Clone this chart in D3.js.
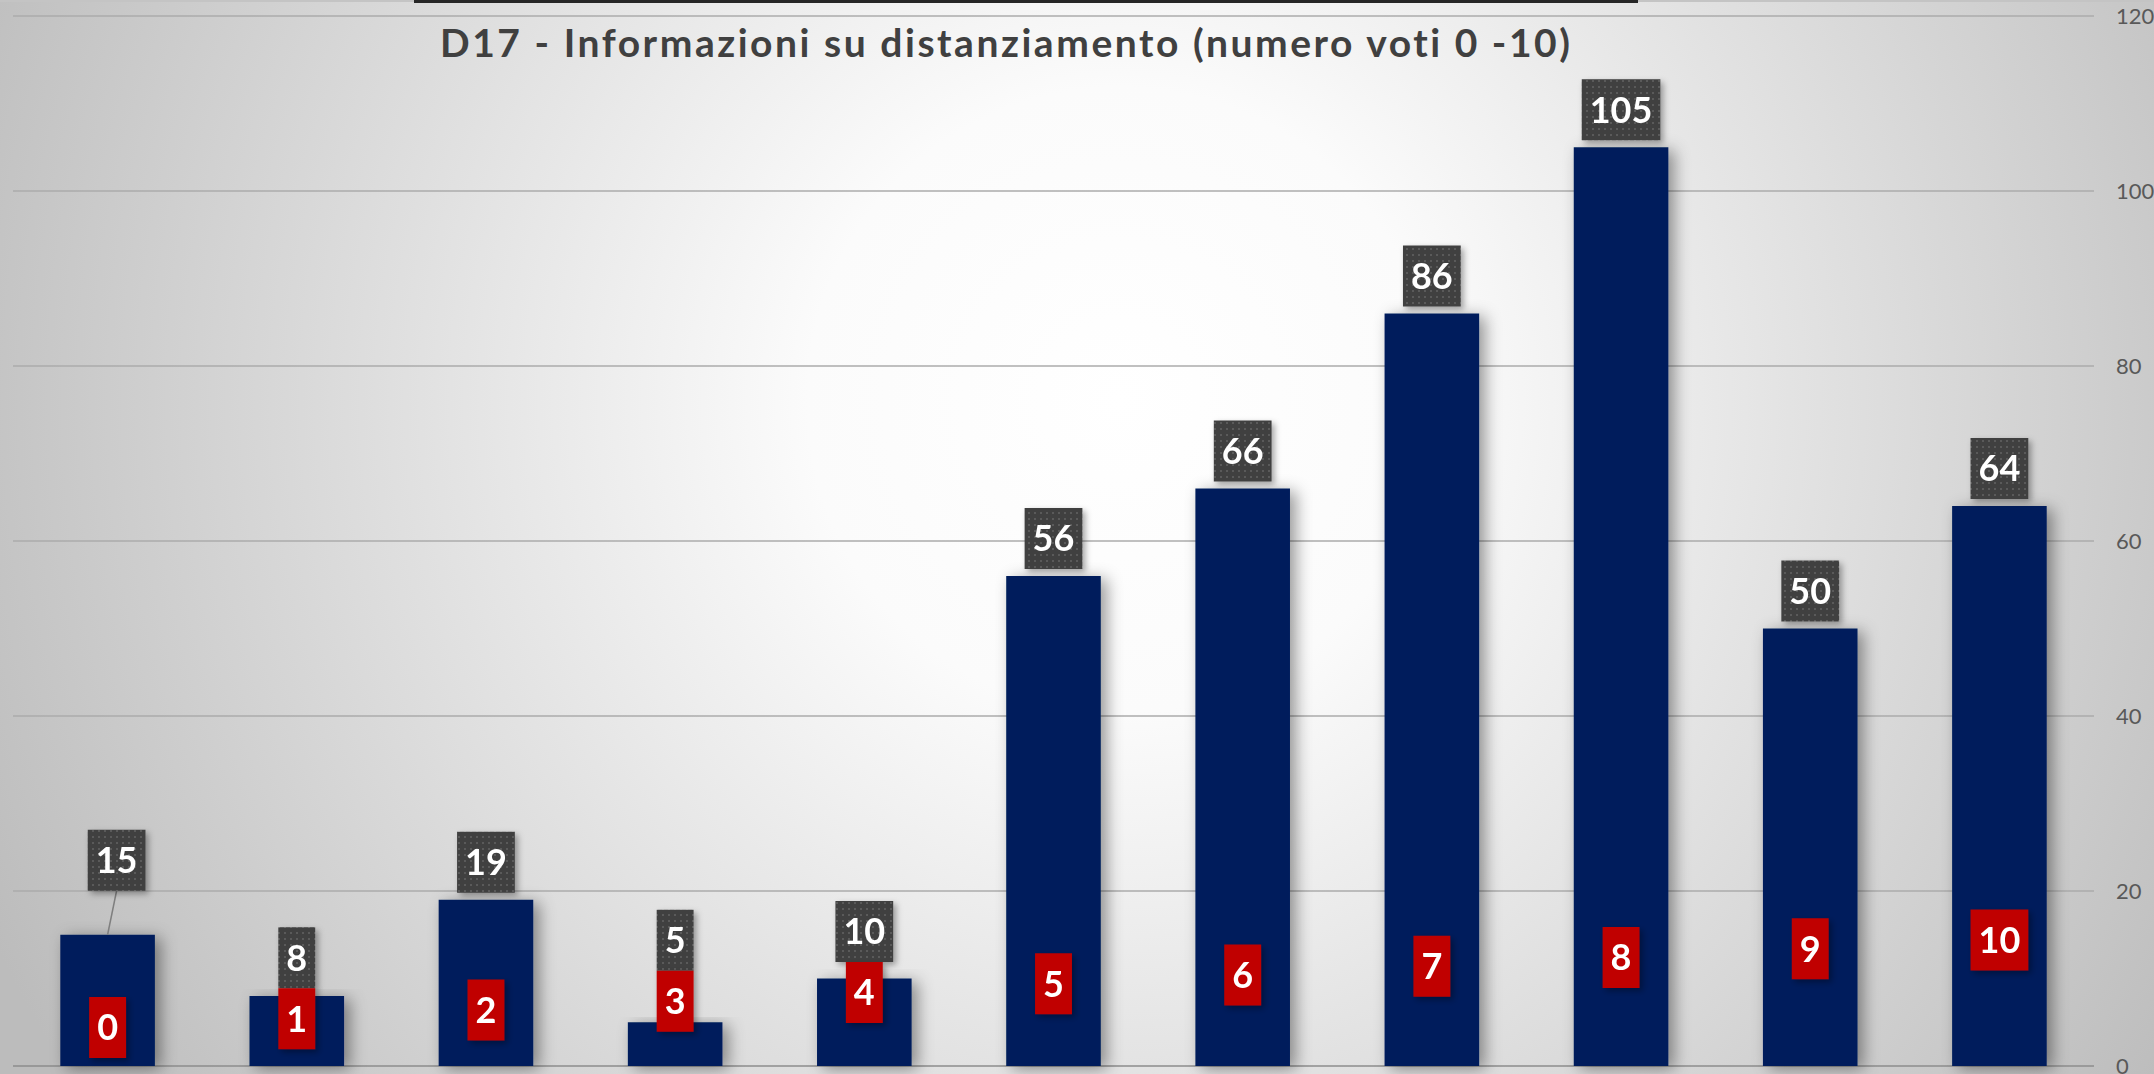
<!DOCTYPE html>
<html>
<head>
<meta charset="utf-8">
<script src="https://d3js.org/d3.v7.min.js"></script>
<style>
  html, body { margin: 0; padding: 0; overflow: hidden; background: #fff; }
  text { font-family: Lato, "Open Sans", sans-serif; font-variant-ligatures: none; font-feature-settings: "liga" 0; }
</style>
</head>
<body>
<div id="graph"></div>
<script>
// voto 0..10 and number of votes for each
var categories = ['0', '1', '2', '3', '4', '5', '6', '7', '8', '9', '10'];
var votes = [15, 8, 19, 5, 10, 56, 66, 86, 105, 50, 64];
var yTicks = [0, 20, 40, 60, 80, 100, 120];
var title = 'D17 - Informazioni su distanziamento (numero voti 0 -10)';

var width = 2154,
    height = 1074,
    svg = d3.select('#graph')
        .append('svg')
        .attr('width', width)
        .attr('height', height);

var defs = svg.append('defs');

var bg = defs.append('radialGradient')
    .attr('id', 'bg')
    .attr('gradientUnits', 'userSpaceOnUse')
    .attr('cx', 1120).attr('cy', 400).attr('r', 1250);
bg.append('stop').attr('offset', 0).attr('stop-color', '#ffffff');
bg.append('stop').attr('offset', 0.25).attr('stop-color', '#fbfbfb');
bg.append('stop').attr('offset', 1).attr('stop-color', '#bcbcbc');

var dots = defs.append('pattern')
    .attr('id', 'dots')
    .attr('patternUnits', 'userSpaceOnUse')
    .attr('width', 6).attr('height', 6);
dots.append('rect').attr('width', 6).attr('height', 6).attr('fill', '#3f3f3f');
dots.append('rect').attr('x', 2).attr('y', 2).attr('width', 2).attr('height', 2).attr('fill', '#5a5a5a');

var barShadow = defs.append('filter')
    .attr('id', 'barShadow')
    .attr('x', '-50%').attr('y', '-10%').attr('width', '200%').attr('height', '130%');
barShadow.append('feDropShadow')
    .attr('dx', 6).attr('dy', 3).attr('stdDeviation', 8)
    .attr('flood-color', '#000').attr('flood-opacity', 0.4);

var labelShadow = defs.append('filter')
    .attr('id', 'labelShadow')
    .attr('x', '-30%').attr('y', '-30%').attr('width', '160%').attr('height', '160%');
labelShadow.append('feDropShadow')
    .attr('dx', 3).attr('dy', 3).attr('stdDeviation', 3)
    .attr('flood-color', '#000').attr('flood-opacity', 0.35);

svg.append('rect')
    .attr('width', width).attr('height', height)
    .attr('fill', 'url(#bg)');

// thin strip along the top edge
svg.append('rect').attr('x', 0).attr('y', 0).attr('width', width).attr('height', 2).attr('fill', '#c4c4c4');
svg.append('rect').attr('x', 414).attr('y', 0).attr('width', 1224).attr('height', 3).attr('fill', '#262626');

var x = d3.scaleBand()
        .domain(categories)
        .range([13, 2094])
        .paddingInner(0.5)
        .paddingOuter(0.25),
    y = d3.scaleLinear()
        .domain([0, 120])
        .range([1066, 16]);

// gridlines
svg.append('g')
    .selectAll('line')
    .data(yTicks)
    .enter()
    .append('line')
    .attr('x1', 13).attr('x2', 2094)
    .attr('y1', function (d) { return y(d); })
    .attr('y2', function (d) { return y(d); })
    .attr('stroke', function (d) { return d === 0 ? '#8c8c8c' : '#ababab'; })
    .attr('stroke-width', 1.5);

// value axis on the right
var axis = svg.append('g')
    .attr('transform', 'translate(2094,0)')
    .call(d3.axisRight(y).tickValues(yTicks).tickSize(0).tickPadding(22));
axis.select('.domain').remove();
axis.selectAll('text')
    .attr('fill', '#595959')
    .style('font-size', '22px')
    .style('font-family', 'Lato, sans-serif');

svg.append('text')
    .attr('x', 1005)
    .attr('y', 57)
    .attr('text-anchor', 'middle')
    .attr('fill', '#404040')
    .attr('textLength', 1130)
    .attr('lengthAdjust', 'spacing')
    .style('font-size', '39px')
    .style('font-weight', 'bold')
    .text(title);

var data = categories.map(function (c, i) { return {cat: c, k: +c, v: votes[i]}; });

svg.append('g')
    .selectAll('rect')
    .data(data)
    .enter()
    .append('rect')
    .attr('x', function (d) { return x(d.cat); })
    .attr('y', function (d) { return y(d.v); })
    .attr('width', x.bandwidth())
    .attr('height', function (d) { return y(0) - y(d.v); })
    .attr('fill', '#001f5c')
    .attr('filter', 'url(#barShadow)');

var boxH = 61,
    padX = 16;

// red category labels sit just above the voto level inside the bar
data.forEach(function (d) {
    d.redBottom = y(d.k) - 8;
    d.redTop = d.redBottom - boxH;
    d.grayBottom = Math.min(y(d.v) - 7, d.redTop);
});

// label of the first bar was dragged up in the original, with a leader line
var nudge = {'0': {dx: 9, dy: -37}};

function addBox(g, d, text, fill, cx, bottom) {
    var grp = g.append('g').attr('filter', 'url(#labelShadow)');
    var r = grp.append('rect').attr('fill', fill);
    var t = grp.append('text')
        .attr('x', cx)
        .attr('y', bottom - boxH / 2)
        .attr('dy', '0.36em')
        .attr('text-anchor', 'middle')
        .attr('fill', '#fff')
        .style('font-size', '36px')
        .style('font-weight', 'bold')
        .text(text);
    var w = t.node().getComputedTextLength() + padX;
    r.attr('x', cx - w / 2).attr('y', bottom - boxH)
        .attr('width', w).attr('height', boxH);
}

var labels = svg.append('g');

data.forEach(function (d) {
    var cx = x(d.cat) + x.bandwidth() / 2,
        n = nudge[d.cat] || {dx: 0, dy: 0},
        gb = d.grayBottom + n.dy;
    if (n.dy !== 0) {
        labels.append('line')
            .attr('x1', cx + n.dx).attr('y1', gb)
            .attr('x2', cx).attr('y2', y(d.v))
            .attr('stroke', '#7f7f7f')
            .attr('stroke-width', 1.5);
    }
    addBox(labels, d, String(d.v), 'url(#dots)', cx + n.dx, gb);
    addBox(labels, d, d.cat, '#c00000', cx, d.redBottom);
});
</script>
</body>
</html>
